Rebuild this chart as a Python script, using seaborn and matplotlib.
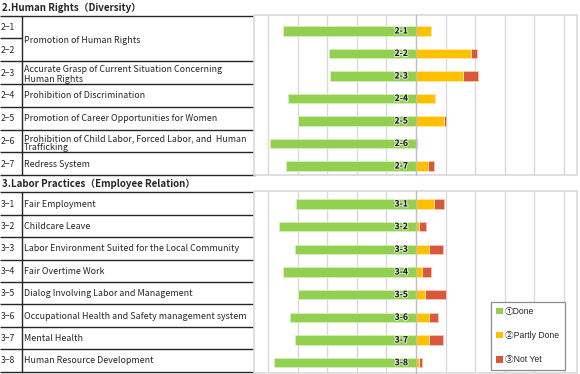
import matplotlib
matplotlib.use("Agg")
import matplotlib.pyplot as plt
from matplotlib.patches import Rectangle
import matplotlib.patheffects as pe
import numpy as np
import pandas as pd
import seaborn as sns

# ---------------- data ----------------
hr_title = "2.Human Rights（Diversity）"
hr_ids = ["2-1", "2-2", "2-3", "2-4", "2-5", "2-6", "2-7"]
hr_items = ["Promotion of Human Rights",
            "Accurate Grasp of Current Situation Concerning\nHuman Rights",
            "Prohibition of Discrimination",
            "Promotion of Career Opportunities for Women",
            "Prohibition of Child Labor, Forced Labor, and  Human\nTrafficking",
            "Redress System"]
hr_item_span = [2, 1, 1, 1, 1, 1]
hr_done = [90, 59, 58, 87, 80, 99, 88]
hr_partly = [10, 37, 32, 13, 19, 0, 8]
hr_notyet = [0, 4, 10, 0, 1, 1, 4]

lp_title = "3.Labor Practices（Employee Relation）"
lp_ids = ["3-1", "3-2", "3-3", "3-4", "3-5", "3-6", "3-7", "3-8"]
lp_items = ["Fair Employment",
            "Childcare Leave",
            "Labor Environment Suited for the Local Community",
            "Fair Overtime Work",
            "Dialog Involving Labor and Management",
            "Occupational Health and Safety management system",
            "Mental Health",
            "Human Resource Development"]
lp_item_span = [1, 1, 1, 1, 1, 1, 1, 1]
lp_done = [81, 93, 82, 90, 80, 85, 82, 96]
lp_partly = [12, 2, 9, 4, 6, 9, 9, 2]
lp_notyet = [7, 5, 9, 6, 14, 6, 9, 2]

legend_labels = ["①Done", "②Partly Done", "③Not Yet"]
grid_ticks = list(range(-100, 101, 20))

# ---------------- style ----------------
sns.set_theme(style="white")
FONT = ["Noto Sans CJK JP", "DejaVu Sans"]
FONT_LEG = ["Liberation Sans", "Noto Sans CJK JP", "DejaVu Sans"]
plt.rcParams["font.family"] = FONT

GREEN = "#92D050"
ORANGE = "#FFC000"
RED = "#D9573B"
GRID = "#D9D9D9"
LINE = "#262626"

W, H = 580, 374
fig = plt.figure(figsize=(W / 100, H / 100), dpi=100)

bg = fig.add_axes([0, 0, 1, 1])
bg.set_xlim(0, W)
bg.set_ylim(H, 0)
bg.axis("off")


def fig_rect(x0, y0, x1, y1):
    return [x0 / W, (H - y1) / H, (x1 - x0) / W, (y1 - y0) / H]


def draw_table(title, title_y, top, row_h, ids, items, spans):
    n = len(ids)
    bg.text(2, title_y, title, fontsize=7, fontweight="bold", va="center", ha="left")
    ys = [top + i * row_h for i in range(n + 1)]
    item_bounds = [0]
    for s in spans:
        item_bounds.append(item_bounds[-1] + s)
    for i in range(n + 1):
        if i in item_bounds:
            bg.plot([0, 254.5], [ys[i], ys[i]], color=LINE, lw=1.0, solid_capstyle="butt")
        else:
            bg.plot([0, 22], [ys[i], ys[i]], color=LINE, lw=1.0, solid_capstyle="butt")
    bg.plot([21.7, 21.7], [ys[0], ys[-1]], color=LINE, lw=1.0)
    for i, t in enumerate(ids):
        bg.text(1, (ys[i] + ys[i + 1]) / 2 + 0.5, t.replace("-", "−"), fontsize=6.2,
                va="center", ha="left")
    for k, txt in enumerate(items):
        a, b = item_bounds[k], item_bounds[k + 1]
        yc = (ys[a] + ys[b]) / 2 + 0.5
        if "\n" in txt or b - a > 1:
            yc += 1.5
        bg.text(24, yc, txt, fontsize=6.4, va="center", ha="left", linespacing=1.05)


draw_table(hr_title, 8, 15.5, (175.3 - 15.5) / 7, hr_ids, hr_items, hr_item_span)
draw_table(lp_title, 184, 192.3, (371.7 - 192.3) / 8, lp_ids, lp_items, lp_item_span)


def draw_chart(rect, ids, done, partly, notyet, ylim, legend=False):
    ax = fig.add_axes(rect)
    df = pd.DataFrame({"id": ids, "done": done, "partly": partly, "notyet": notyet})
    df["right"] = df["partly"] + df["notyet"]
    df["neg_done"] = -df["done"]
    kw = dict(orient="h", width=0.42, saturation=1, errorbar=None, ax=ax,
              linewidth=0.7)
    sns.barplot(data=df, y="id", x="right", color=RED, edgecolor="#F2C0B4",
                label=legend_labels[2], **kw)
    sns.barplot(data=df, y="id", x="partly", color=ORANGE, edgecolor="#FFE8A0",
                label=legend_labels[1], **kw)
    sns.barplot(data=df, y="id", x="neg_done", color=GREEN, edgecolor="#D6EDB9",
                label=legend_labels[0], **kw)
    if ax.get_legend() is not None:
        ax.get_legend().remove()
    for i, t in enumerate(ids):
        ax.text(-5.5, i, t, fontsize=6.2, fontweight="bold", ha="right", va="center",
                color="#1a1a1a", family=FONT,
                path_effects=[pe.withStroke(linewidth=1.5, foreground="#ffffffaa")])
    ax.set_xlim(-109.5, 109)
    ax.set_ylim(*ylim)
    ax.set_xticks(grid_ticks)
    ax.grid(axis="x", color=GRID, lw=1)
    ax.set_axisbelow(True)
    ax.set_xlabel("")
    ax.set_ylabel("")
    ax.tick_params(axis="x", length=0, labelbottom=False)
    ax.set_yticks([])
    ax.set_yticks(np.arange(len(ids)) - 0.5, minor=True)
    ax.tick_params(axis="y", which="minor", length=2.5, width=0.8, color="#A6A6A6",
                   direction="out", labelleft=False)
    for s in ["top", "right", "bottom"]:
        ax.spines[s].set_visible(False)
    ax.spines["left"].set_position(("data", 0))
    ax.spines["left"].set_color("#BFBFBF")
    ax.spines["left"].set_linewidth(0.9)
    ax.spines["left"].set_zorder(1.5)
    ax.add_patch(Rectangle((0, 0), 1, 1, transform=ax.transAxes, fill=False,
                           ec=GRID, lw=1.2, clip_on=False, zorder=0.5))
    if legend:
        h, l = ax.get_legend_handles_labels()
        order = [l.index(x) for x in legend_labels]
        leg = ax.legend([h[i] for i in order], [l[i] for i in order],
                        loc="upper left",
                        bbox_to_anchor=(490.5 / W, (H - 301.5) / H),
                        bbox_transform=fig.transFigure,
                        prop={"family": FONT_LEG, "size": 6.2},
                        handlelength=0.8, handleheight=0.8, handletextpad=0.25,
                        labelspacing=1.75, borderpad=0.65, borderaxespad=0,
                        frameon=True, fancybox=False, edgecolor="#8C8C8C",
                        framealpha=1)
        leg.get_frame().set_linewidth(0.9)
        for p in leg.get_patches():
            p.set_edgecolor("none")
    return ax


ax1 = draw_chart(fig_rect(254.3, 15.3, 577, 175.3), hr_ids, hr_done, hr_partly,
                 hr_notyet, (6.413, -0.698))
ax2 = draw_chart(fig_rect(254.3, 191, 577, 373), lp_ids, lp_done, lp_partly,
                 lp_notyet, (7.454, -0.573), legend=True)

fig.savefig("out.png", dpi=100)
